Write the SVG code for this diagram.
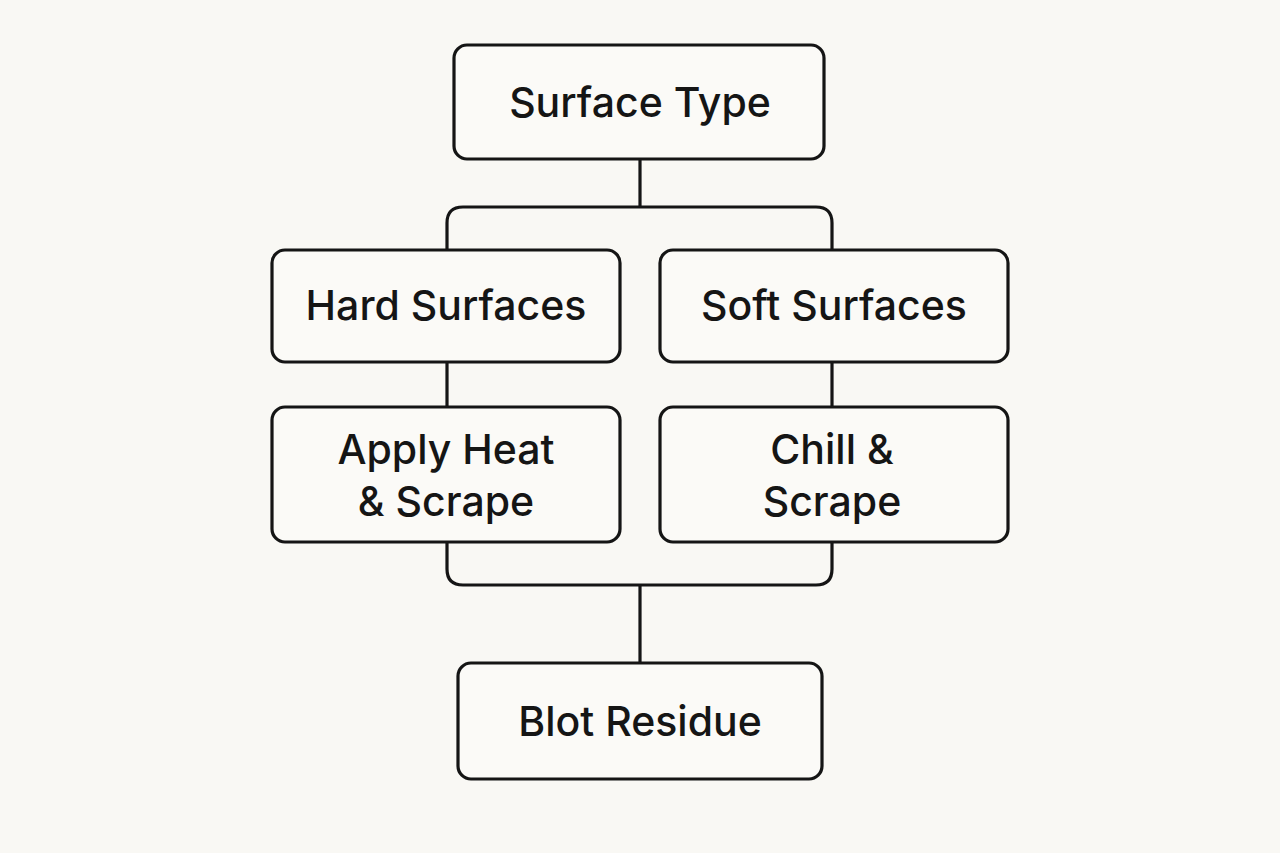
<svg xmlns="http://www.w3.org/2000/svg" width="1280" height="853" viewBox="0 0 1280 853">
<style>
.box{fill:#fbfaf7;stroke:#151515;stroke-width:3.2}
.conn{fill:none;stroke:#151515;stroke-width:3.2}
.t{font-family:Inter,"Liberation Sans",sans-serif;font-size:41px;font-weight:500;fill:#151515;text-anchor:middle}
</style>
<rect width="1280" height="853" fill="#f9f8f4"/>
<g id="connectors">
<line class="conn" x1="640" y1="159" x2="640" y2="207"/>
<path class="conn" d="M447 250 V223 Q447 207 463 207 H816 Q832 207 832 223 V250"/>
<line class="conn" x1="447" y1="362" x2="447" y2="407"/>
<line class="conn" x1="832" y1="362" x2="832" y2="407"/>
<path class="conn" d="M447 542 V569 Q447 585 463 585 H816 Q832 585 832 569 V542"/>
<line class="conn" x1="640" y1="585" x2="640" y2="663"/>
</g>
<g id="surface-type">
<rect class="box" x="454" y="45" width="370" height="114" rx="13"/>
<text class="t" x="640" y="117">Surface Type</text>
</g>
<g id="hard-surfaces">
<rect class="box" x="272" y="250" width="348" height="112" rx="13"/>
<text class="t" x="446" y="320">Hard Surfaces</text>
</g>
<g id="soft-surfaces">
<rect class="box" x="660" y="250" width="348" height="112" rx="13"/>
<text class="t" x="834" y="320">Soft Surfaces</text>
</g>
<g id="apply-heat">
<rect class="box" x="272" y="407" width="348" height="135" rx="13"/>
<text class="t" x="446" y="464">Apply Heat</text>
<text class="t" x="446" y="516">&amp; Scrape</text>
</g>
<g id="chill">
<rect class="box" x="660" y="407" width="348" height="135" rx="13"/>
<text class="t" x="832" y="464">Chill &amp;</text>
<text class="t" x="832" y="516">Scrape</text>
</g>
<g id="blot-residue">
<rect class="box" x="458" y="663" width="364" height="116" rx="13"/>
<text class="t" x="640" y="736">Blot Residue</text>
</g>
</svg>
